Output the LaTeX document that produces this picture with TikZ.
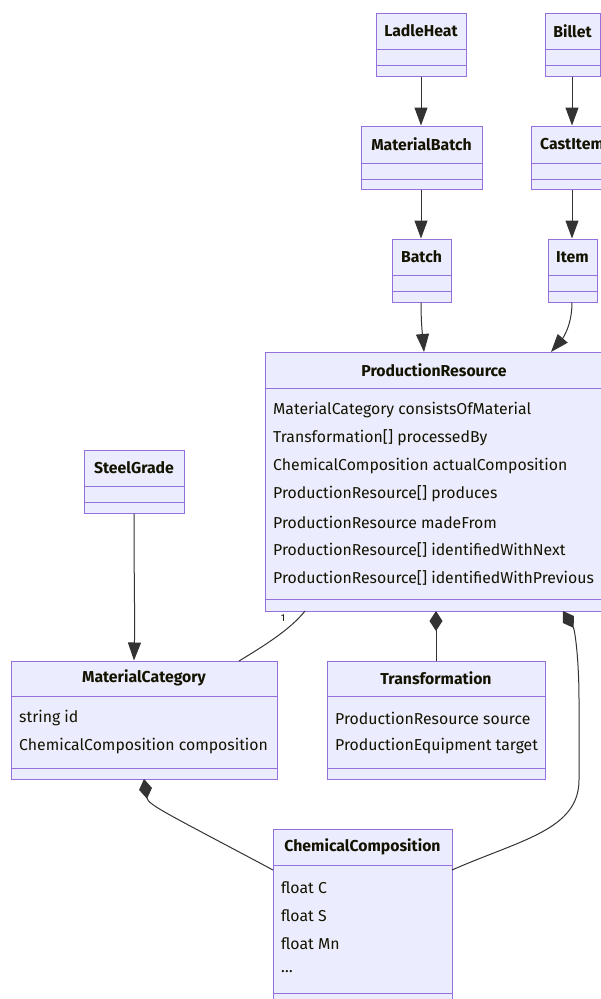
\documentclass[tikz,border=0pt]{standalone}
\usepackage{fontspec}
\setmainfont{Fira Sans}
\usetikzlibrary{arrows.meta}
\definecolor{clsfill}{HTML}{ECECFF}
\definecolor{clsline}{HTML}{9370DB}
\definecolor{edge}{HTML}{333333}
\definecolor{txt}{HTML}{131300}
\tikzset{
  cls/.style={draw=clsline, fill=clsfill, line width=1pt, inner sep=0pt},
  div/.style={draw=clsline, line width=1pt},
  ttl/.style={font=\fontsize{15.8}{18}\selectfont\bfseries, text=txt, inner sep=0pt},
  attr/.style={font=\fontsize{15.8}{18}\selectfont, text=txt, anchor=west, inner sep=0pt},
  rel/.style={draw=edge, line width=1pt},
  inh/.style={rel, -{Triangle[length=18pt,width=13pt]}},
  comp/.style={rel, {Diamond[length=20pt,width=13pt]}-},
  mult/.style={font=\fontsize{10}{12}\selectfont, text=txt, inner sep=0pt}
}
\begin{document}
\begin{tikzpicture}[x=1pt,y=-1pt]
\clip (0,0) rectangle (601,999);
\fill[white] (0,0) rectangle (601,999);
% classes
\node[cls, minimum width=90pt, minimum height=63pt] (LH) at (421,44.5) {};
\draw[div] (376,49) -- (466,49); \draw[div] (376,65) -- (466,65);
\node[ttl] at (421,31) {LadleHeat};

\node[cls, minimum width=55pt, minimum height=63pt] (BI) at (572.5,44.5) {};
\draw[div] (545,49) -- (600,49); \draw[div] (545,65) -- (600,65);
\node[ttl] at (572.5,31) {Billet};

\node[cls, minimum width=121pt, minimum height=63pt] (MB) at (421.5,157.5) {};
\draw[div] (361,163) -- (482,163); \draw[div] (361,179) -- (482,179);
\node[ttl] at (421.5,144) {MaterialBatch};

\node[cls, minimum width=82pt, minimum height=63pt] (CI) at (572,157.5) {};
\draw[div] (531,163) -- (613,163); \draw[div] (531,179) -- (613,179);
\node[ttl] at (572,144) {CastItem};

\node[cls, minimum width=59pt, minimum height=63pt] (BA) at (421.5,270.5) {};
\draw[div] (392,275) -- (451,275); \draw[div] (392,291) -- (451,291);
\node[ttl] at (421.5,257) {Batch};

\node[cls, minimum width=49pt, minimum height=63pt] (IT) at (572.5,270.5) {};
\draw[div] (548,275) -- (597,275); \draw[div] (548,291) -- (597,291);
\node[ttl] at (572.5,257) {Item};

\node[cls, minimum width=338pt, minimum height=259pt] (PR) at (434,481.5) {};
\draw[div] (265,388) -- (603,388); \draw[div] (265,599) -- (603,599);
\node[ttl] at (434,370) {ProductionResource};
\node[attr] at (273,410) {MaterialCategory consistsOfMaterial};
\node[attr] at (273,438) {Transformation[] processedBy};
\node[attr] at (273,466) {ChemicalComposition actualComposition};
\node[attr] at (273,494) {ProductionResource[] produces};
\node[attr] at (273,522) {ProductionResource madeFrom};
\node[attr] at (273,550) {ProductionResource[] identifiedWithNext};
\node[attr] at (273,578) {ProductionResource[] identifiedWithPrevious};

\node[cls, minimum width=100pt, minimum height=63pt] (SG) at (134,481.5) {};
\draw[div] (84,486) -- (184,486); \draw[div] (84,502) -- (184,502);
\node[ttl] at (134,468) {SteelGrade};

\node[cls, minimum width=266pt, minimum height=118pt] (MC) at (144,720) {};
\draw[div] (11,696) -- (277,696); \draw[div] (11,768) -- (277,768);
\node[ttl] at (144,678) {MaterialCategory};
\node[attr] at (19,718) {string id};
\node[attr] at (19,746) {ChemicalComposition composition};

\node[cls, minimum width=218pt, minimum height=118pt] (TR) at (436,720) {};
\draw[div] (327,696) -- (545,696); \draw[div] (327,768) -- (545,768);
\node[ttl] at (436,678) {Transformation};
\node[attr] at (335,718) {ProductionResource source};
\node[attr] at (335,746) {ProductionEquipment target};

\node[cls, minimum width=179pt, minimum height=176pt] (CC) at (362.5,917) {};
\draw[div] (273,865) -- (452,865); \draw[div] (273,993) -- (452,993);
\node[ttl] at (362.5,847) {ChemicalComposition};
\node[attr] at (281,888) {float C};
\node[attr] at (281,916) {float S};
\node[attr] at (281,944) {float Mn};
\node[attr] at (281,972) {\dots};

% relations
\draw[inh] (LH.south) -- (LH.south |- MB.north);
\draw[inh] (BI.south -| CI.north) -- (CI.north);
\draw[inh] (MB.south -| LH.south) -- (LH.south |- BA.north);
\draw[inh] (CI.south) -- (CI.south |- IT.north);
\coordinate (prin1) at (424,352);
\coordinate (prin2) at (551,352);
\draw[inh] (BA.south -| LH.south) .. controls (421,325) and (423,340) .. (prin1);
\draw[inh] (IT.south -| CI.south) .. controls (572,325) and (563,338) .. (prin2);
\draw[inh] (SG.south) .. controls (134,580) and (135,620) .. (SG.south |- MC.north);
\coordinate (prmc) at (305,611);
\coordinate (mcpr) at (239,661);
\draw[rel] (prmc) .. controls (290,630) and (262,647) .. (mcpr);
\node[mult] (one) at (283,618) {1};
\coordinate (prtr) at (436,611);
\draw[comp] (prtr) -- (prtr |- TR.north);
\coordinate (prcc) at (563,611);
\coordinate (ccr) at (452,870);
\draw[comp] (prcc) .. controls (575,630) and (579,660) .. (579,700) -- (579,780) .. controls (579,830) and (520,840) .. (ccr);
\coordinate (mccc) at (144,779);
\coordinate (ccl) at (273,870);
\draw[comp] (mccc) .. controls (148,805) and (170,815) .. (ccl);
\end{tikzpicture}
\end{document}
